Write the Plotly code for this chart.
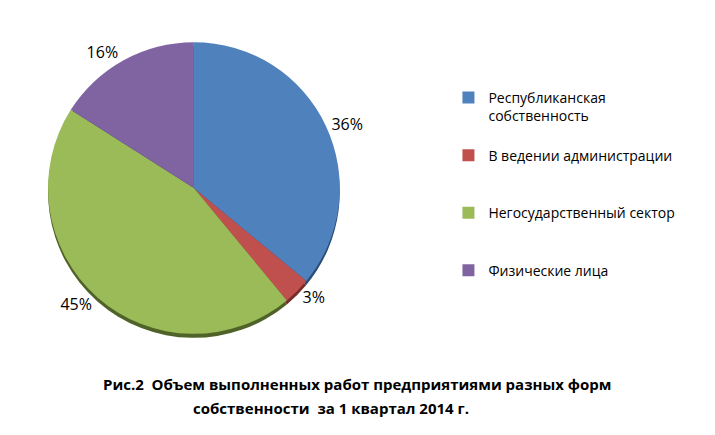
import plotly.graph_objects as go

# Объем работ по формам собственности, 1 квартал 2014
labels = ["Республиканская<br>собственность<br> ",
          "В ведении администрации<br> <br> ",
          "Негосударственный сектор<br> <br> ",
          "Физические лица<br> <br> "]
values = [36, 3, 45, 16]
colors = ["#4F81BD", "#C0504D", "#9BBB59", "#8064A2"]
shadow_colors = ["#2C4D75", "#772C2A", "#4F6228", "#3F3151"]

title_line1 = "<b>Рис.2  Объем выполненных работ предприятиями разных форм</b>"
title_line2 = "<b>собственности  за 1 квартал 2014 г.</b>"

pie_x = [0.056, 0.464]
pie_y = [0.2506, 0.9218]
shadow_dy = 4 / 435

fig = go.Figure()
# тень под диаграммой
fig.add_trace(go.Pie(
    labels=labels,
    values=values,
    sort=False,
    direction="clockwise",
    rotation=0,
    marker=dict(colors=shadow_colors, line=dict(width=0)),
    textinfo="none",
    hoverinfo="skip",
    domain=dict(x=pie_x, y=[pie_y[0] - shadow_dy, pie_y[1] - shadow_dy]),
    showlegend=False,
))
fig.add_trace(go.Pie(
    labels=labels,
    values=values,
    sort=False,
    direction="clockwise",
    rotation=0,
    marker=dict(colors=colors, line=dict(width=0)),
    textinfo="percent",
    textposition="outside",
    outsidetextfont=dict(size=16, color="black", family="Open Sans"),
    domain=dict(x=pie_x, y=pie_y),
    showlegend=True,
))

fig.update_layout(
    width=715, height=435,
    margin=dict(l=0, r=0, t=0, b=0),
    paper_bgcolor="white",
    font=dict(family="Open Sans", color="black"),
    legend=dict(
        x=0.616, y=0.83, xanchor="left", yanchor="top",
        valign="top",
        font=dict(size=14, family="Open Sans", color="black"),
        itemwidth=30,
    ),
    annotations=[
        dict(text=title_line1, x=0.488, y=0.1356, xref="paper", yref="paper",
             xanchor="center", yanchor="middle", showarrow=False,
             font=dict(size=15, family="Open Sans", color="black")),
        dict(text=title_line2, x=0.452, y=0.0805, xref="paper", yref="paper",
             xanchor="center", yanchor="middle", showarrow=False,
             font=dict(size=15, family="Open Sans", color="black")),
    ],
)

fig.write_html("out.html")
